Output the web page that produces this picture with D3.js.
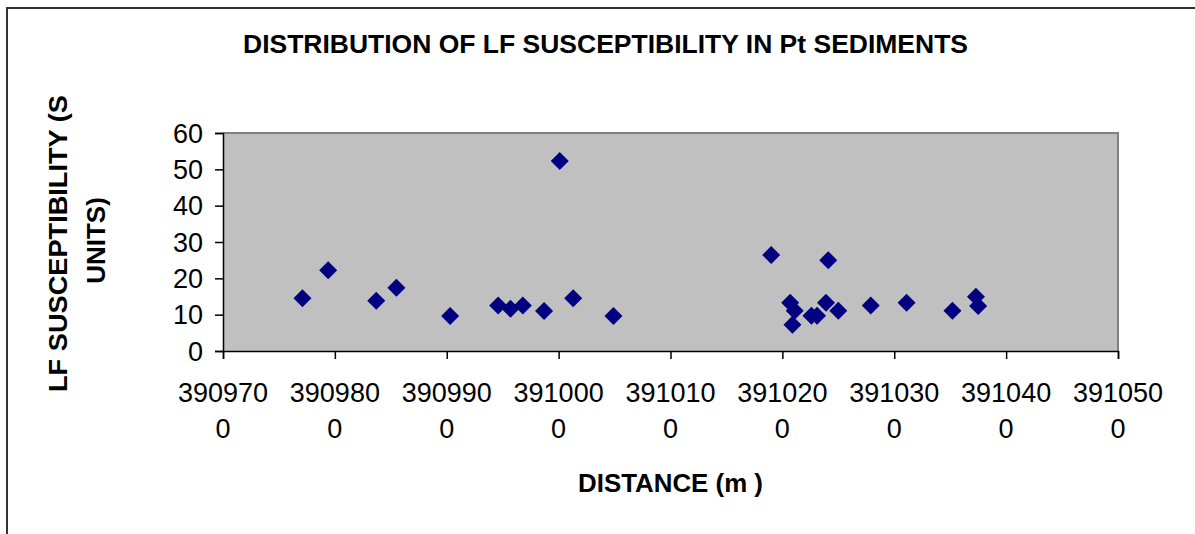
<!DOCTYPE html>
<html>
<head>
<meta charset="utf-8">
<script src="https://cdn.jsdelivr.net/npm/d3@7"></script>
<style>
  html, body { margin: 0; padding: 0; background: #fff; }
  svg { display: block; font-family: "Liberation Sans", Arial, sans-serif; }
</style>
</head>
<body>
<svg id="chart" width="1195" height="534"></svg>
<script>
// ---- data ----
const distance = [3909771, 3909794, 3909837, 3909855, 3909903, 3909946, 3909957, 3909968, 3909987, 3910001,
                  3910013, 3910049, 3910190, 3910241, 3910207, 3910211, 3910209, 3910226, 3910231, 3910239,
                  3910250, 3910279, 3910311, 3910352, 3910373, 3910375];
const lfSusceptibility = [14.5, 22.2, 13.8, 17.4, 9.6, 12.5, 11.6, 12.5, 11.0, 52.3,
                          14.5, 9.6, 26.4, 25.0, 13.3, 11.1, 7.2, 9.7, 9.7, 13.3,
                          11.1, 12.5, 13.3, 11.1, 14.9, 12.4];
const xTicks = [3909700, 3909800, 3909900, 3910000, 3910100, 3910200, 3910300, 3910400, 3910500];
const yTicks = [0, 10, 20, 30, 40, 50, 60];
const titleText = "DISTRIBUTION OF LF SUSCEPTIBILITY IN Pt SEDIMENTS";
const xTitle = "DISTANCE (m )";
const yTitleLines = ["LF SUSCEPTIBILITY (S", "UNITS)"];

// ---- layout ----
const svg = d3.select("#chart");
const plot = { left: 223, right: 1118, top: 133, bottom: 351 };

const x = d3.scaleLinear().domain([3909700, 3910500]).range([plot.left, plot.right]);
const y = d3.scaleLinear().domain([0, 60]).range([plot.bottom, plot.top]);

// outer frame (left + top edges visible)
svg.append("path")
  .attr("d", `M7,534 L7,8 L1195,8`)
  .attr("fill", "none").attr("stroke", "#333").attr("stroke-width", 2);

// plot area background
svg.append("rect")
  .attr("x", plot.left).attr("y", plot.top)
  .attr("width", plot.right - plot.left).attr("height", plot.bottom - plot.top)
  .attr("fill", "#c0c0c0");
// top + right border grey
svg.append("path")
  .attr("d", `M${plot.left},${plot.top} L${plot.right},${plot.top} L${plot.right},${plot.bottom}`)
  .attr("fill", "none").attr("stroke", "#808080").attr("stroke-width", 2);

// axes
const xAxis = d3.axisBottom(x).tickValues(xTicks).tickSize(8).tickFormat("");
const gx = svg.append("g").attr("transform", `translate(0,${plot.bottom})`).call(xAxis);
gx.select(".domain").attr("stroke", "#000").attr("stroke-width", 1.5);
gx.selectAll(".tick line").attr("stroke", "#000").attr("stroke-width", 1.5);

const yAxis = d3.axisLeft(y).tickValues(yTicks).tickSize(8).tickFormat("");
const gy = svg.append("g").attr("transform", `translate(${plot.left},0)`).call(yAxis);
gy.select(".domain").attr("stroke", "#000").attr("stroke-width", 1.5);
gy.selectAll(".tick line").attr("stroke", "#000").attr("stroke-width", 1.5);

// y tick labels
svg.append("g").selectAll("text").data(yTicks).join("text")
  .attr("x", 203).attr("y", d => y(d) + 9.5)
  .attr("text-anchor", "end")
  .attr("font-size", 27).attr("fill", "#000")
  .text(d => d);

// x tick labels (wrapped like the original)
const xl = svg.append("g").selectAll("g").data(xTicks).join("g");
xl.append("text")
  .attr("x", d => x(d)).attr("y", 401.5)
  .attr("text-anchor", "middle").attr("font-size", 27).attr("fill", "#000")
  .text(d => String(d).slice(0, 6));
xl.append("text")
  .attr("x", d => x(d)).attr("y", 438)
  .attr("text-anchor", "middle").attr("font-size", 27).attr("fill", "#000")
  .text(d => String(d).slice(6));

// points (diamonds)
const diamond = d3.symbol().type(d3.symbolSquare).size(162);
svg.append("g").selectAll("path").data(distance.map((d, i) => [d, lfSusceptibility[i]])).join("path")
  .attr("d", diamond)
  .attr("transform", d => `translate(${x(d[0])},${y(d[1])}) rotate(45)`)
  .attr("fill", "#000080");

// title
svg.append("text")
  .attr("x", 605.5).attr("y", 52.5)
  .attr("text-anchor", "middle").attr("font-size", 26).attr("font-weight", "bold")
  .attr("textLength", 725).attr("lengthAdjust", "spacingAndGlyphs")
  .text(titleText);

// x title
svg.append("text")
  .attr("x", 670.5).attr("y", 492.3)
  .attr("text-anchor", "middle").attr("font-size", 26).attr("font-weight", "bold")
  .attr("textLength", 185).attr("lengthAdjust", "spacingAndGlyphs")
  .text(xTitle);

// y title (two lines, rotated)
svg.append("text")
  .attr("transform", "translate(67,243.5) rotate(-90)")
  .attr("text-anchor", "middle").attr("font-size", 26).attr("font-weight", "bold")
  .attr("textLength", 297).attr("lengthAdjust", "spacingAndGlyphs")
  .text(yTitleLines[0]);
svg.append("text")
  .attr("transform", "translate(105,240.5) rotate(-90)")
  .attr("text-anchor", "middle").attr("font-size", 26).attr("font-weight", "bold")
  .text(yTitleLines[1]);
</script>
</body>
</html>
